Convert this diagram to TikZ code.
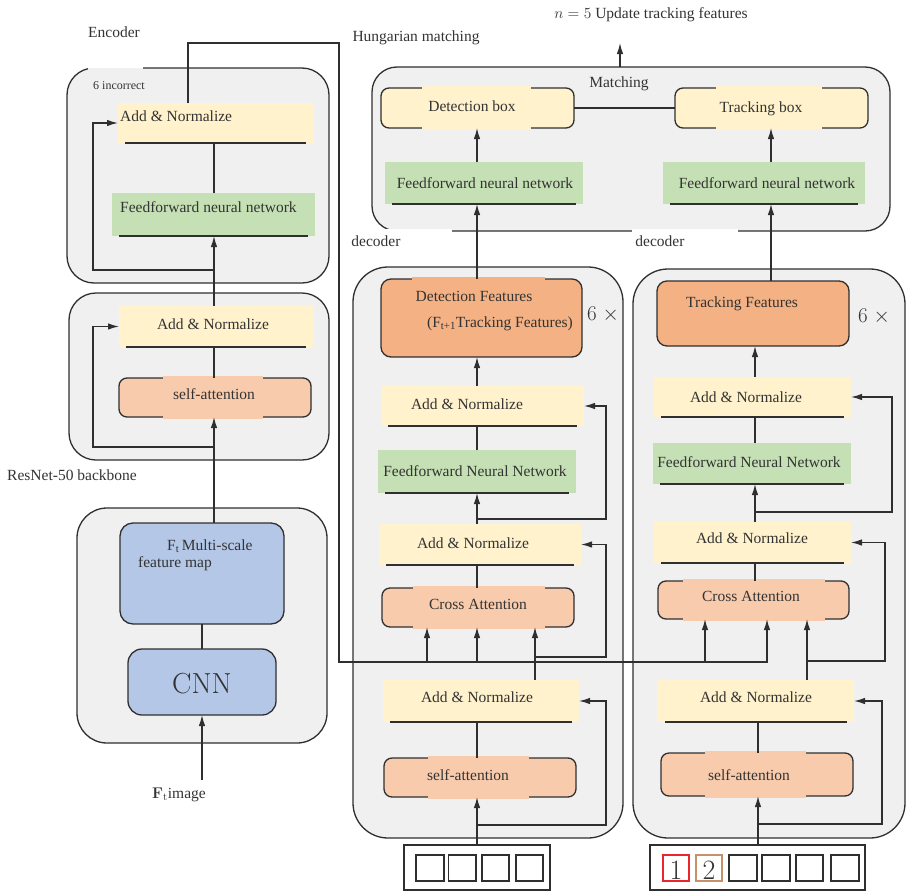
\RequirePackage{fix-cm}
\documentclass[tikz,border=0pt]{standalone}
\usepackage[no-math]{fontspec}
\setmainfont{Liberation Serif}
\usetikzlibrary{arrows.meta,fit,calc}
\definecolor{boxgrey}{HTML}{F0F0F0}
\definecolor{linec}{HTML}{2F2F2F}
\definecolor{yel}{HTML}{FFF2CC}
\definecolor{grn}{HTML}{C5E0B4}
\definecolor{sal}{HTML}{F8CBAD}
\definecolor{org}{HTML}{F4B183}
\definecolor{blu}{HTML}{B4C7E7}
\definecolor{textc}{HTML}{333333}
\definecolor{redsq}{HTML}{E8262D}
\definecolor{brnsq}{HTML}{C8906A}
\newcommand\mybotline[1]{\draw[conn] ($(#1.south west)+(7,0)$) -- ($(#1.south east)+(-7,0)$);}
\tikzset{
  container/.style={draw=linec, fill=boxgrey, line width=1.3pt, rounded corners=#1, inner sep=0pt, outer sep=0pt},
  flat/.style={fill=#1, inner sep=0pt, outer sep=0pt},
  rbox/.style={fill=#1, draw=linec, line width=1.3pt, rounded corners=8pt, inner sep=0pt, outer sep=0pt},
  txt/.style={font=\fontsize{15.5}{18}\selectfont, text=textc, inner sep=0pt, text height=10pt, text depth=0pt},
  big/.style={text=textc, inner sep=0pt},
  conn/.style={draw=linec, line width=1.3pt},
  arr/.style={conn, -{Latex[length=11pt,width=6.5pt]}},
  sq/.style={draw=#1, line width=1.2pt, inner sep=0pt, outer sep=0pt},
  inbox/.style={draw=linec, line width=1.3pt, fill=white, inner sep=0pt, outer sep=0pt},
}
\begin{document}
\begin{tikzpicture}[x=1pt,y=-1pt]
\useasboundingbox (0,0) rectangle (907,894);
\fill[white] (0,0) rectangle (907,894);

% ---------- containers ----------
\node[container=27pt, fit={(67,68) (329,283)}] (encTop) {};
\node[container=27pt, fit={(69,293) (329,460)}] (encBot) {};
\node[container=30pt, fit={(77,508) (327,743)}] (bb) {};
\node[container=25pt, fit={(372,67) (890,231)}] (match) {};
\node[container=35pt, fit={(353,267) (623,838)}] (decL) {};
\node[container=35pt, fit={(633,269) (905,838)}] (decR) {};

% label patches
\fill[white] (88,60) rectangle (143,68);
\fill[boxgrey] (88,68) rectangle (143,74);
\fill[white] (350,228.5) rectangle (452,265.5);
\fill[white] (632,228.5) rectangle (738,262);

% ---------- labels ----------
\node[txt] (lEnc) at (114,32) {Encoder};
\node[txt, font=\fontsize{12}{14}\selectfont] (lInc) at (119,84) {6 incorrect};
\node[txt] (lHun) at (416,36) {Hungarian matching};
\node[txt] (lUpd) at (651,13) {$n=5$ Update tracking features};
\node[txt] (lMat) at (619,82) {Matching};
\node[txt] (lDecL) at (376,241) {decoder};
\node[txt] (lDecR) at (660,241) {decoder};
\node[txt] (lRes) at (72,475) {ResNet-50 backbone};

% ---------- encoder ----------
\node[flat=yel, fit={(118,103) (313,143)}] (eAN1) {};
\mybotline{eAN1}
\node[txt, anchor=base west] (eAN1t) at (120,121) {Add \& Normalize};
\node[flat=grn, fit={(112,193) (315,236)}] (eFF1) {};
\mybotline{eFF1}
\node[txt, anchor=base west] (eFF1t) at (120,212) {Feedforward neural network};
\node[flat=yel, fit={(119,306) (313,347)}] (eAN2) {};
\mybotline{eAN2}
\node[txt] (eAN2t) at (213,324) {Add \& Normalize};
\node[rbox=sal, fit={(119,378) (311,417)}] (eSA) {};
\fill[sal] (163,376) rectangle (263,419);
\node[txt] (eSAt) at (214,394) {self-attention};

% ---------- backbone ----------
\node[rbox=blu, rounded corners=13pt, fit={(120,523) (284,624)}] (msf) {};
\node[txt, anchor=base west] (msft1) at (167,550) {F\textsubscript{t}\,Multi-scale};
\node[txt, anchor=base west] (msft2) at (138,567) {feature map};
\node[rbox=blu, rounded corners=14pt, fit={(128,649) (276,715)}] (cnn) {};
\node[big, font=\fontsize{29}{32}\selectfont, anchor=base] (cnnt) at (202,693) {$\mathrm{CNN}$};
\node[txt, anchor=base west] (img) at (152,798) {$\mathbf{F}_{\mathrm{t}}$image};
\coordinate (inImg) at (202,780);

% ---------- matching ----------
\node[rbox=yel, fit={(381,88) (574,128)}] (detB) {};
\fill[yel] (422,86) rectangle (531,130);
\node[txt] (detBt) at (472,106) {Detection box};
\node[rbox=yel, fit={(675,88) (868,128)}] (trkB) {};
\fill[yel] (716,86) rectangle (822,130);
\node[txt] (trkBt) at (761,107) {Tracking box};
\node[flat=grn, fit={(385,162) (583,204)}] (ffnL) {};
\mybotline{ffnL}
\node[txt] (ffnLt) at (485,183) {Feedforward neural network};
\node[flat=grn, fit={(663,162) (865,204)}] (ffnR) {};
\mybotline{ffnR}
\node[txt] (ffnRt) at (767,183) {Feedforward neural network};

% ---------- left decoder ----------
\node[rbox=org, rounded corners=10pt, fit={(381,279) (582,357)}] (detF) {};
\fill[org] (412,277) rectangle (545,300);
\node[txt] (detFt1) at (474,296) {Detection Features};
\node[txt] (detFt2) at (500,322) {(F\textsubscript{t+1}Tracking Features)};
\node[big, font=\fontsize{21}{24}\selectfont, anchor=base] (sixL) at (603,320) {$6$\hspace{6pt}$\times$};
\node[flat=yel, fit={(381,386) (584,426)}] (dAN3) {};
\mybotline{dAN3}
\node[txt] (dAN3t) at (467,404) {Add \& Normalize};
\node[flat=grn, fit={(378,450) (576,493)}] (dFF) {};
\mybotline{dFF}
\node[txt] (dFFt) at (475,471) {Feedforward Neural Network};
\node[flat=yel, fit={(379,524) (581,565)}] (dAN2) {};
\mybotline{dAN2}
\node[txt] (dAN2t) at (473,543) {Add \& Normalize};
\node[rbox=sal, fit={(382,588) (574,627)}] (dCA) {};
\fill[sal] (413,586) rectangle (545,629);
\node[txt] (dCAt) at (478,604) {Cross Attention};
\node[flat=yel, fit={(383,680) (579,722)}] (dAN1) {};
\mybotline{dAN1}
\node[txt] (dAN1t) at (477,697) {Add \& Normalize};
\node[rbox=sal, fit={(384,758) (576,797)}] (dSA) {};
\fill[sal] (428,756) rectangle (529,799);
\node[txt] (dSAt) at (468,775) {self-attention};
\node[inbox, fit={(404,845) (550,890)}] (inL) {};
\node[sq=linec, fit={(416,855) (444,881)}] (sL1) {};
\node[sq=linec, fit={(448.5,855) (476,881)}] (sL2) {};
\node[sq=linec, fit={(482,855) (509,881)}] (sL3) {};
\node[sq=linec, fit={(516,855) (543,881)}] (sL4) {};

% ---------- right decoder ----------
\node[rbox=org, rounded corners=10pt, fit={(657,281) (849,346)}] (trkF) {};
\node[txt, anchor=base west] (trkFt) at (686,307) {Tracking Features};
\node[big, font=\fontsize{21}{24}\selectfont, anchor=base] (sixR) at (874,322) {$6$\hspace{6pt}$\times$};
\node[flat=yel, fit={(654,377) (851,417)}] (rAN3) {};
\mybotline{rAN3}
\node[txt] (rAN3t) at (746,397) {Add \& Normalize};
\node[flat=grn, fit={(653,443) (851,484)}] (rFF) {};
\mybotline{rFF}
\node[txt] (rFFt) at (749,462) {Feedforward Neural Network};
\node[flat=yel, fit={(654,522) (851,563)}] (rAN2) {};
\mybotline{rAN2}
\node[txt] (rAN2t) at (752,538) {Add \& Normalize};
\node[rbox=sal, fit={(658,581) (849,619)}] (rCA) {};
\fill[sal] (683,579) rectangle (825,621);
\node[txt] (rCAt) at (751,596) {Cross Attention};
\node[flat=yel, fit={(658,680) (854,722)}] (rAN1) {};
\mybotline{rAN1}
\node[txt] (rAN1t) at (756,697) {Add \& Normalize};
\node[rbox=sal, fit={(661,753) (853,796)}] (rSA) {};
\fill[sal] (705,751) rectangle (806,798);
\node[txt] (rSAt) at (749,775) {self-attention};
\node[inbox, fit={(650,845) (865,890)}] (inR) {};
\node[sq=redsq, fit={(663,855) (689,881)}] (sR1) {};
\node[sq=brnsq, fit={(696,855) (722,881)}] (sR2) {};
\node[sq=linec, fit={(729,855) (757,881)}] (sR3) {};
\node[sq=linec, fit={(762,855) (790,881)}] (sR4) {};
\node[sq=linec, fit={(796,855) (823,881)}] (sR5) {};
\node[sq=linec, fit={(831,855) (859,881)}] (sR6) {};
\node[big, font=\fontsize{28}{30}\selectfont, anchor=base] (n1) at (sR1.center |- 0,879) {$1$};
\node[big, font=\fontsize{28}{30}\selectfont, anchor=base] (n2) at (sR2.center |- 0,879) {$2$};

% ---------- coordinates for vertical lines ----------
\coordinate (cE) at (214,0);
\coordinate (cER) at (93,0);
\coordinate (cEO) at (188,43);
\coordinate (cL) at (339,43);
\coordinate (hL) at (339,662);
\coordinate (cD) at (477,0);
\coordinate (cD1) at (427,0);
\coordinate (cD3) at (535,0);
\coordinate (cDR) at (606,0);
\coordinate (cR) at (755,0);
\coordinate (cRS) at (758,0);
\coordinate (cR1) at (705,0);
\coordinate (cR2) at (767,0);
\coordinate (cR3) at (807,0);
\coordinate (cRR1) at (882,0);
\coordinate (cRR2) at (885,0);
\coordinate (cRR3) at (892,0);
\coordinate (cM) at (771,0);
\coordinate (cUp) at (620,43);

% ---------- encoder connectors ----------
\draw[arr] (inImg) -- (cnn.south);
\draw[conn] (cnn.north) -- (msf.south);
\draw[arr] (msf.north -| cE) -- (eSA.south -| cE);
\coordinate (rE2) at (214,447);
\draw[arr] (rE2) -- (rE2 -| cER) -- (cER |- eAN2.west) -- (eAN2.west);
\draw[conn] (eSA.north -| cE) -- (eAN2.south -| cE);
\draw[arr] (eAN2.north -| cE) -- (eFF1.south -| cE);
\coordinate (rE1) at (214,270);
\draw[arr] (rE1) -- (rE1 -| cER) -- (cER |- eAN1.west) -- (eAN1.west);
\draw[conn] (eFF1.north -| cE) -- (eAN1.south -| cE);
\draw[arr] (eAN1.north -| cEO) -- (cEO) -- (cL) -- (hL) -- (hL -| cR2) -- (rCA.south -| cR2);

% ---------- matching connectors ----------
\draw[conn] (detB.east) -- (trkB.west);
\draw[arr] (ffnL.north -| cD) -- (detB.south -| cD);
\draw[arr] (ffnR.north -| cM) -- (trkB.south -| cM);
\draw[arr] (match.north -| cUp) -- (cUp);

% ---------- left decoder connectors ----------
\draw[arr] (inL.north -| cD) -- (dSA.south -| cD);
\coordinate (bL1) at (477,825);
\draw[arr] (bL1) -- (bL1 -| cDR) -- (cDR |- dAN1.east) -- (dAN1.east);
\draw[conn] (dSA.north -| cD) -- (dAN1.south -| cD);
\draw[arr] (dAN1.north -| cD3) -- (dCA.south -| cD3);
\coordinate (bL2) at (535,657);
\draw[arr] (bL2) -- (bL2 -| cDR) -- (cDR |- dAN2.east) -- (dAN2.east);
\draw[arr] (hL -| cD1) -- (dCA.south -| cD1);
\draw[arr] (hL -| cD) -- (dCA.south -| cD);
\draw[conn] (dCA.north -| cD) -- (dAN2.south -| cD);
\draw[arr] (dAN2.north -| cD) -- (dFF.south -| cD);
\coordinate (bL3) at (477,519);
\draw[arr] (bL3) -- (bL3 -| cDR) -- (cDR |- dAN3.east) -- (dAN3.east);
\draw[conn] (dFF.north -| cD) -- (dAN3.south -| cD);
\draw[arr] (dAN3.north -| cD) -- (detF.south -| cD);
\draw[arr] (detF.north -| cD) -- (ffnL.south -| cD);

% ---------- right decoder connectors ----------
\draw[arr] (inR.north -| cRS) -- (rSA.south -| cRS);
\coordinate (bR1) at (758,824);
\draw[arr] (bR1) -- (bR1 -| cRR1) -- (cRR1 |- rAN1.east) -- (rAN1.east);
\draw[conn] (rSA.north -| cRS) -- (rAN1.south -| cRS);
\draw[arr] (rAN1.north -| cR3) -- (rCA.south -| cR3);
\coordinate (bR2) at (807,661);
\draw[arr] (bR2) -- (bR2 -| cRR2) -- (cRR2 |- rAN2.east) -- (rAN2.east);
\draw[arr] (hL -| cR1) -- (rCA.south -| cR1);
\draw[conn] (rCA.north -| cR) -- (rAN2.south -| cR);
\draw[arr] (rAN2.north -| cR) -- (rFF.south -| cR);
\coordinate (bR3) at (755,512);
\draw[arr] (bR3) -- (bR3 -| cRR3) -- (cRR3 |- rAN3.east) -- (rAN3.east);
\draw[conn] (rFF.north -| cR) -- (rAN3.south -| cR);
\draw[arr] (rAN3.north -| cR) -- (trkF.south -| cR);
\draw[arr] (trkF.north -| cM) -- (ffnR.south -| cM);
\end{tikzpicture}
\end{document}
